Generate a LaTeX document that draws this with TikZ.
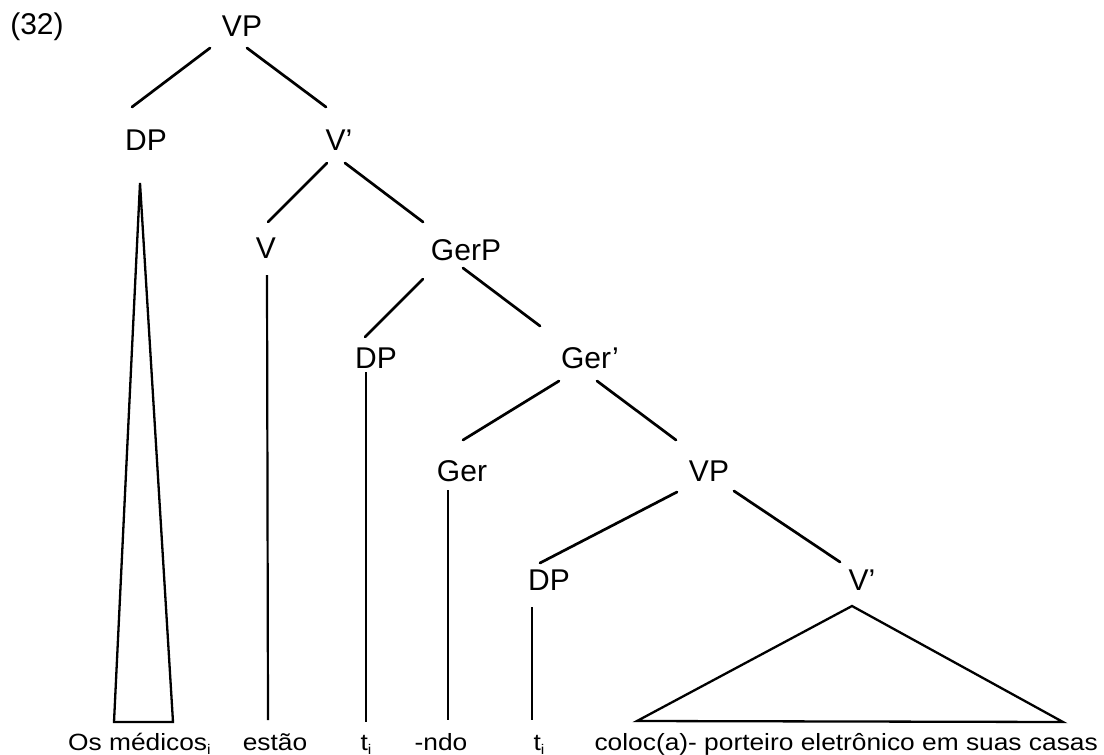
\documentclass[tikz,border=0pt]{standalone}
\usepackage{fontspec}
\setmainfont{Liberation Sans}
\newfontfamily\leaffont[FakeStretch=1.12]{Liberation Sans}
% lowered index letter after a leaf word
\newcommand\sbx[1]{\raisebox{-4pt}{\fontsize{14}{14}\selectfont #1}}
\begin{document}
\begin{tikzpicture}[x=1pt,y=-1pt,
  cat/.style={inner sep=0pt, font=\fontsize{30}{30}\selectfont},
  leaf/.style={inner sep=0pt, anchor=base, font=\leaffont\fontsize{23.5}{24}\selectfont},
  branch/.style={line width=2.7pt, line cap=round},
  stem/.style={line width=2.2pt},
  roof/.style={line width=2.3pt, line join=miter}]
\useasboundingbox (0,0) rectangle (1104,755);

% example number
\node[cat] (ex) at (37,27) {(32)};

% category labels
\node[cat] (vp)     at (242,26)  {VP};
\node[cat] (dpA)    at (146,140) {DP};
\node[cat] (vbarA)  at (339,140) {V’};
\node[cat] (v)      at (266,248) {V};
\node[cat] (gerp)   at (466,250) {GerP};
\node[cat] (dpB)    at (376,358) {DP};
\node[cat] (gerbar) at (590,358) {Ger’};
\node[cat] (ger)    at (462,471) {Ger};
\node[cat] (vpB)    at (709,471) {VP};
\node[cat] (dpC)    at (549,580) {DP};
\node[cat] (vbarB)  at (862,580) {V’};

% terminal string
\node[leaf, anchor=base west] (osmed) at (68,750) {Os médicos\sbx{i}};
\node[leaf] (estao) at (275,750) {estão};
\node[leaf] (trA)   at (366,750) {t\sbx{i}};
\node[leaf] (ndo)   at (441,750) {-ndo};
\node[leaf] (trB)   at (539,750) {t\sbx{i}};
\node[leaf, anchor=base east] (coloc) at (1098,750) {coloc(a)- porteiro eletrônico em suas casas};

% branches
\draw[branch] ([shift={(-32,22)}]vp.center)     -- ([shift={(-14,-33)}]dpA.center);
\draw[branch] ([shift={(5,22)}]vp.center)       -- ([shift={(-13,-33)}]vbarA.center);
\draw[branch] ([shift={(-12,23)}]vbarA.center)  -- ([shift={(2,-26)}]v.center);
\draw[branch] ([shift={(6,23)}]vbarA.center)    -- ([shift={(-43,-28)}]gerp.center);
\draw[branch] ([shift={(-43,29)}]gerp.center)   -- ([shift={(-11,-21)}]dpB.center);
\draw[branch] ([shift={(-3,18)}]gerp.center)    -- ([shift={(-50,-32)}]gerbar.center);
\draw[branch] ([shift={(-31,23)}]gerbar.center) -- ([shift={(1,-31)}]ger.center);
\draw[branch] ([shift={(7,23)}]gerbar.center)   -- ([shift={(-33,-31)}]vpB.center);
\draw[branch] ([shift={(-32,21)}]vpB.center)    -- ([shift={(-9,-17)}]dpC.center);
\draw[branch] ([shift={(25,20)}]vpB.center)     -- ([shift={(-22,-18)}]vbarB.center);

% unary stems down to the terminals
\draw[stem] ([shift={(1,27)}]v.center)    -- ([shift={(-7,-30)}]estao.base);
\draw[stem] ([shift={(-10,14)}]dpB.center) -- ([shift={(0,-28)}]trA.base);
\draw[stem] ([shift={(-14,19)}]ger.center) -- ([shift={(7,-30)}]ndo.base);
\draw[stem] ([shift={(-17,27)}]dpC.center) -- ([shift={(-7,-30)}]trB.base);

% roofs over unanalysed constituents
\draw[roof] ([shift={(-6,43)}]dpA.center) -- ([shift={(-32,582)}]dpA.center)
  -- ([shift={(27,582)}]dpA.center) -- cycle;
\draw[roof] ([shift={(-10,26)}]vbarB.center) -- ([shift={(-225,141)}]vbarB.center)
  -- ([shift={(201,142)}]vbarB.center) -- cycle;
\end{tikzpicture}
\end{document}
